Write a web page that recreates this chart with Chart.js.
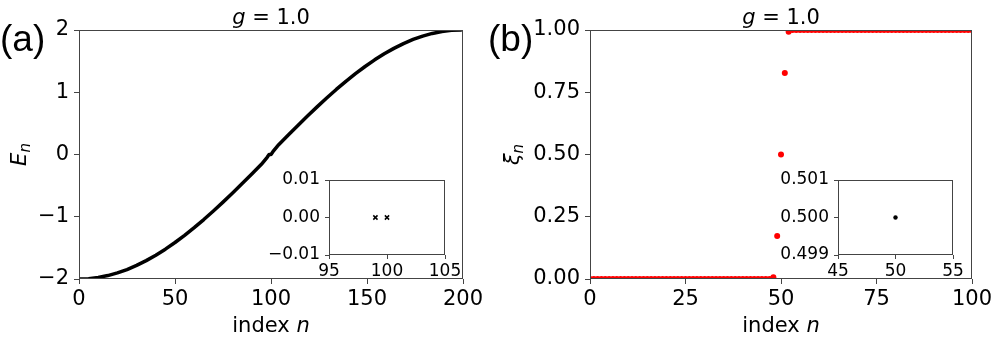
<!DOCTYPE html>
<html>
<head>
<meta charset="utf-8">
<script src="https://cdn.jsdelivr.net/npm/chart.js@4.4.0/dist/chart.umd.min.js"></script>
<style>
body{margin:0;background:#fff;width:997px;height:340px;overflow:hidden;position:relative}
canvas{position:absolute}
</style>
</head>
<body>
<canvas id="mainA" width="490" height="340" style="left:0;top:0"></canvas>
<canvas id="mainB" width="512" height="340" style="left:485px;top:0"></canvas>
<canvas id="insetA" width="210" height="125" style="left:260px;top:160px"></canvas>
<canvas id="insetB" width="210" height="125" style="left:769px;top:160px"></canvas>
<script>
// panel (a): energies E_n
var energyN = [0, 5, 10, 15, 20, 25, 30, 35, 40, 45, 50, 55, 60, 65, 70, 75, 80, 85, 90, 95, 98, 99,
               100, 101, 104, 109, 114, 119, 124, 129, 134, 139, 144, 149, 154, 159, 164, 169, 174, 179, 184, 189, 194, 199];
var energyE = [-2.000, -1.994, -1.975, -1.945, -1.902, -1.848, -1.782, -1.705, -1.618, -1.521, -1.414, -1.299,
               -1.176, -1.045, -0.908, -0.765, -0.618, -0.467, -0.313, -0.157, -0.045, 0.000,
               0.000, 0.045, 0.157, 0.313, 0.467, 0.618, 0.765, 0.908, 1.045, 1.176, 1.299, 1.414, 1.521,
               1.618, 1.705, 1.782, 1.848, 1.902, 1.945, 1.975, 1.994, 2.000];
// inset (a): the two zero modes
var zeroN = [99, 100];
var zeroE = [0, 0];

// panel (b): xi_n for n = 0..100
var xiValues = [0,0,0,0,0,0,0,0,0,0,0,0,
                0,0,0,0,0,0,0,0,0,0,0,0,
                0,0,0,0,0,0,0,0,0,0,0,0,
                0,0,0,0,0,0,0,0,0,0,0,0,
                0.007, 0.173, 0.5, 0.827, 0.993,
                1,1,1,1,1,1,1,1,1,1,1,1,
                1,1,1,1,1,1,1,1,1,1,1,1,
                1,1,1,1,1,1,1,1,1,1,1,1,
                1,1,1,1,1,1,1,1,1,1,1,1];
// inset (b)
var midN = [50];
var midXi = [0.5];

// tick labels
var ticksAX = [0, 50, 100, 150, 200];
var ticksAY = [-2, -1, 0, 1, 2];
var ticksBX = [0, 25, 50, 75, 100];
var ticksBY = [0, 0.25, 0.5, 0.75, 1];
var ticksIAX = [95, 100, 105];
var ticksIAY = [-0.01, 0, 0.01];
var ticksIBX = [45, 50, 55];
var ticksIBY = [0.499, 0.5, 0.501];

var FONT = "'DejaVu Sans'";
Chart.defaults.font.family = FONT;
Chart.defaults.color = '#000';

function minus(s) { return String(s).replace('-', '\u2212'); }

function drawRuns(ctx, runs, x, y) {
    var w = 0;
    runs.forEach(function (r) { ctx.font = r.font; w += ctx.measureText(r.text).width; });
    var cx = x - w / 2;
    runs.forEach(function (r) {
        ctx.font = r.font;
        ctx.fillText(r.text, cx, y + (r.dy || 0));
        cx += ctx.measureText(r.text).width;
    });
}

function axis(min, max, list, fmt, size, len, pad, fit, horiz) {
    return {
        type: 'linear', min: min, max: max,
        afterBuildTicks: function (s) { s.ticks = list.map(function (v) { return { value: v }; }); },
        afterFit: function (s) { if (horiz) s.height = fit; else s.width = fit; },
        grid: { display: true, drawOnChartArea: false, drawTicks: true, tickLength: len, color: '#444', lineWidth: 1 },
        border: { display: false },
        ticks: {
            autoSkip: false, maxRotation: 0, padding: pad, color: '#000',
            font: { family: FONT, size: size },
            callback: function (v) { return minus(fmt(v)); }
        }
    };
}

var framePlugin = {
    id: 'frame',
    beforeDraw: function (chart) {
        var a = chart.chartArea, ctx = chart.ctx;
        ctx.save();
        ctx.fillStyle = '#fff';
        ctx.fillRect(a.left, a.top, a.right - a.left, a.bottom - a.top);
        ctx.restore();
    },
    afterDraw: function (chart, args, o) {
        var a = chart.chartArea, ctx = chart.ctx;
        ctx.save();
        ctx.strokeStyle = '#444';
        ctx.lineWidth = 1;
        ctx.strokeRect(Math.round(a.left) + 0.5, Math.round(a.top) + 0.5,
                       Math.round(a.right - a.left) - 1, Math.round(a.bottom - a.top) - 1);
        if (o.title) {
            ctx.fillStyle = '#000';
            ctx.textAlign = 'left';
            ctx.textBaseline = 'alphabetic';
            var cx = (a.left + a.right) / 2;
            drawRuns(ctx, [{ text: 'g', font: 'italic 21px ' + FONT }, { text: ' = 1.0', font: '21px ' + FONT }], cx, 24);
            drawRuns(ctx, [{ text: 'index ', font: '21px ' + FONT }, { text: 'n', font: 'italic 21px ' + FONT }], cx, 332);
            ctx.font = "37px 'Liberation Sans'";
            ctx.fillText(o.panel, o.panelX, 51);
            ctx.save();
            ctx.translate(o.ylabX, (a.top + a.bottom) / 2);
            ctx.rotate(-Math.PI / 2);
            drawRuns(ctx, [{ text: o.ylab, font: 'italic 21px ' + FONT },
                           { text: 'n', font: 'italic 15px ' + FONT, dy: 4 }], 0, 0);
            ctx.restore();
        }
        ctx.restore();
    }
};

function baseOpts(pad, scales, frame) {
    return {
        responsive: false, animation: false, events: [],
        layout: { padding: pad },
        plugins: { legend: { display: false }, tooltip: { enabled: false }, frame: frame || {} },
        scales: scales
    };
}

new Chart(document.getElementById('mainA'), {
    type: 'scatter',
    data: { datasets: [{
        data: energyN.map(function (n, i) { return { x: n, y: energyE[i] }; }),
        showLine: true, borderColor: '#000', borderWidth: 3.5, pointRadius: 0,
        tension: 0, borderJoinStyle: 'round', borderCapStyle: 'round', clip: 0
    }] },
    options: baseOpts({ top: 30, right: 27, left: 0, bottom: 0 }, {
        x: axis(0, 200, ticksAX, function (v) { return v; }, 21, 5, 3, 61, true),
        y: axis(-2, 2, ticksAY, function (v) { return v; }, 21, 5, 5, 79, false)
    }, { title: true, panel: '(a)', panelX: 0, ylab: 'E', ylabX: 26 }),
    plugins: [framePlugin]
});

new Chart(document.getElementById('mainB'), {
    type: 'scatter',
    data: { datasets: [{
        data: xiValues.map(function (v, i) { return { x: i, y: v }; }),
        backgroundColor: '#ff0000', borderWidth: 0, pointRadius: 3, clip: 0
    }] },
    options: baseOpts({ top: 30, right: 25, left: 0, bottom: 0 }, {
        x: axis(0, 100, ticksBX, function (v) { return v; }, 21, 5, 3, 61, true),
        y: axis(0, 1, ticksBY, function (v) { return v.toFixed(2); }, 21, 5, 5, 105, false)
    }, { title: true, panel: '(b)', panelX: 3, ylab: '\u03be', ylabX: 34 }),
    plugins: [framePlugin]
});

new Chart(document.getElementById('insetA'), {
    type: 'scatter',
    data: { datasets: [{
        data: zeroN.map(function (n, i) { return { x: n, y: zeroE[i] }; }),
        pointStyle: 'crossRot', borderColor: '#000', borderWidth: 1.5, pointRadius: 3
    }] },
    options: baseOpts({ top: 20, right: 25, left: 0, bottom: 0 }, {
        x: axis(95, 105, ticksIAX, function (v) { return v; }, 17, 4, 2, 30, true),
        y: axis(-0.01, 0.01, ticksIAY, function (v) { return v.toFixed(2); }, 17, 4, 5, 69, false)
    }),
    plugins: [framePlugin]
});

new Chart(document.getElementById('insetB'), {
    type: 'scatter',
    data: { datasets: [{
        data: midN.map(function (n, i) { return { x: n, y: midXi[i] }; }),
        backgroundColor: '#000', borderWidth: 0, pointRadius: 2.2
    }] },
    options: baseOpts({ top: 20, right: 26, left: 0, bottom: 0 }, {
        x: axis(45, 55, ticksIBX, function (v) { return v; }, 17, 4, 2, 30, true),
        y: axis(0.499, 0.501, ticksIBY, function (v) { return v.toFixed(3); }, 17, 4, 5, 69, false)
    }),
    plugins: [framePlugin]
});
</script>
</body>
</html>
